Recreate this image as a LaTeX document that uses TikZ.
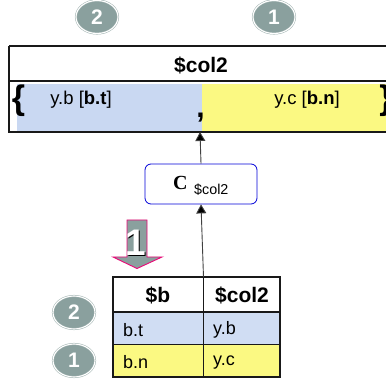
\documentclass[tikz,border=0pt]{standalone}
\usepackage{fontspec}
\setmainfont{Liberation Sans}
\newfontfamily\serifc{Liberation Serif}
\usetikzlibrary{arrows.meta,shapes.geometric}
\definecolor{badge}{HTML}{8AA09E}
\definecolor{lblue}{HTML}{C9D8F2}
\definecolor{lblueb}{HTML}{D0DDF3}
\definecolor{lyellow}{HTML}{FBF982}
\tikzset{
  badgeo/.style={ellipse,draw=badge!80,double=white,double distance=1.1pt,fill=badge,line width=0.5pt,minimum width=42pt,minimum height=33pt,inner sep=0pt,text=white,font=\bfseries\fontsize{21}{21}\selectfont},
  tline/.style={draw=black!90,line width=1.3pt},
  conn/.style={draw=black!75,line width=0.9pt,-{Triangle[length=9pt,width=10pt,fill=black]}},
  hdr/.style={font=\bfseries\fontsize{21}{21}\selectfont,inner sep=0pt},
  cell/.style={font=\fontsize{18}{18}\selectfont,inner sep=0pt,anchor=west},
  sm/.style={font=\fontsize{18.5}{18.5}\selectfont,inner sep=0pt},
  brace/.style={font=\bfseries\fontsize{34}{34}\selectfont,inner sep=0pt}
}
\begin{document}
\begin{tikzpicture}[x=1pt,y=-1pt]
\useasboundingbox (0,0) rectangle (386,385);
\fill[white] (0,0) rectangle (386,385);
% top table
\fill[lblue] (17,84.5) rectangle (202,132);
\fill[lyellow] (202,84.5) rectangle (386,132);
\draw[tline] (9,46) -- (386,46) (9,46) -- (9,132) -- (386,132) (9,81) -- (386,81);
\node[hdr] (title) at (201,65) {\$col2};
\node[sm] (yb) at (81,99.5) {y.b [\textbf{b.t}]};
\node[sm] (yc) at (307,99.5) {y.c [\textbf{b.n}]};
\node[brace] (lb) at (18.5,101) {\{};
\node[brace] (rb) at (386,101) {\}};
\node[font=\bfseries\fontsize{30}{30}\selectfont,inner sep=0pt,anchor=base] (comma) at (200.5,118) {,};
\coordinate (topin) at (200,132);
% badges
\node[badgeo] (b2t) at (97,17) {2};
\node[badgeo] (b1t) at (274,17) {1};
\node[badgeo] (b2b) at (74,312.5) {2};
\node[badgeo] (b1b) at (74,360.5) {1};
% C box
\node[draw=blue!85!black,line width=0.8pt,rounded corners=6pt,minimum width=112pt,minimum height=40pt,inner sep=0pt,fill=white] (cbox) at (201,184) {};
\node[inner sep=0pt,anchor=base west] (clabel) at (173,190) {\serifc\bfseries\fontsize{20}{20}\selectfont C};
\node[inner sep=0pt,anchor=base west,font=\fontsize{14.3}{14.3}\selectfont] (csub) at (194,195) {\$col2};
% bottom table
\fill[lblueb] (113,312) rectangle (280,344);
\fill[lyellow] (113,344) rectangle (280,377);
\draw[tline] (113,277) rectangle (280,377);
\draw[tline] (113,312) -- (280,312) (113,344.5) -- (280,344.5) (203.5,277) -- (203.5,377);
\node[hdr] (h1) at (158,295) {\$b};
\node[hdr] (h2) at (242,295) {\$col2};
\node[cell] (c1) at (123,330) {b.t};
\node[cell] (c2) at (213,330) {y.b};
\node[cell] (c3) at (123,362.5) {b.n};
\node[cell] (c4) at (213,362.5) {y.c};
% connectors
\coordinate (tabletop) at (203.5,277);
\draw[conn] (cbox.north) -- (topin);
\draw[conn] (tabletop) -- (cbox.south);
% arrow
\draw[draw=magenta!80!red,fill=badge,line width=0.9pt,line join=miter] (127,220) -- (147,220) -- (147,257) -- (162,257) -- (137,268.5) -- (113,257) -- (127,257) -- cycle;
\node[inner sep=0pt,text=black,font=\bfseries\fontsize{37}{37}\selectfont] (arrs) at (137,243.5) {1};
\node[inner sep=0pt,text=white,font=\bfseries\fontsize{37}{37}\selectfont] (arr1) at (136,243) {1};
\end{tikzpicture}
\end{document}
